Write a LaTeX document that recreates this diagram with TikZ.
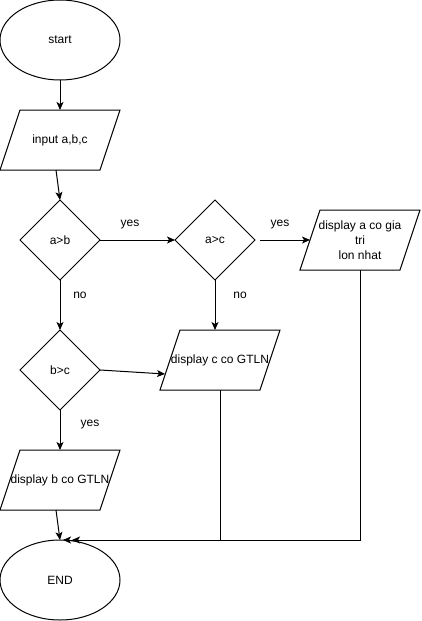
\documentclass[tikz,border=0pt]{standalone}
\usepackage{fontspec}
\setmainfont{Liberation Sans}
\usetikzlibrary{shapes.geometric,arrows.meta}
\newcommand\iopath[1]{\draw ([xshift=-40pt]#1.north) -- ([xshift=60pt]#1.north) -- ([xshift=40pt]#1.south) -- ([xshift=-60pt]#1.south) -- cycle;}
\begin{document}
\begin{tikzpicture}[x=1pt,y=-1pt,line width=1pt,
  every node/.style={font=\fontsize{12}{15}\selectfont, inner sep=0pt, outer sep=0pt},
  term/.style={draw, ellipse, minimum width=120pt, minimum height=80pt},
  decide/.style={draw, diamond, minimum width=80pt, minimum height=80pt},
  iobox/.style={minimum width=100pt, minimum height=60pt},
  conn/.style={draw, -{Stealth[length=8pt,width=7pt,inset=2pt]}},
  plain/.style={draw}]
\useasboundingbox (0,0) rectangle (421,621);
% nodes
\node[term] (start) at (60,40) {start};
\node[iobox] (in) at (60,140) {input a,b,c};
\node[decide] (ab) at (60,240) {a>b};
\node[decide] (ac) at (215,240) {a>c};
\node[iobox, align=center] (da) at (360,240) {display a co gia\\tri\\lon nhat};
\node[decide] (bc) at (60,370) {b>c};
\node[iobox] (dc) at (220,360) {display c co GTLN};
\node[iobox] (db) at (60,480) {display b co GTLN};
\node[term] (end) at (60,580) {END};
\iopath{in}
\iopath{da}
\iopath{dc}
\iopath{db}
% helper coordinates
\coordinate (inb) at ([xshift=-4pt]in.south);
\coordinate (dbb) at ([xshift=-4pt]db.south);
\coordinate (ace) at ([xshift=5pt]ac.east);
\coordinate (dal) at (310,240);
\coordinate (dcl) at (165,374);
\coordinate (e1) at (63,540);
\coordinate (e2) at (72,540);
% connectors
\draw[conn] (start.south) -- (in.north);
\draw[conn] (inb) -- (ab.north);
\draw[conn] (ab.east) -- node[pos=0.4, yshift=15pt] (l1) {yes} (ac.west);
\draw[conn] (ace) -- node[pos=0.4, yshift=15pt] (l2) {yes} (dal);
\draw[conn] (ac.south) -- node[pos=0.3, xshift=25pt] (l3) {no} (ac.south |- dc.north);
\draw[conn] (ab.south) -- node[pos=0.3, xshift=20pt] (l4) {no} (bc.north);
\draw[conn] (bc.east) -- (dcl);
\draw[conn] (bc.south) -- node[pos=0.375, xshift=30pt] (l5) {yes} (db.north);
\draw[conn] (dbb) -- (end.north);
\draw[conn] (dc.south) |- (e2);
\draw[conn] (da.south) |- (e1);
\end{tikzpicture}
\end{document}
